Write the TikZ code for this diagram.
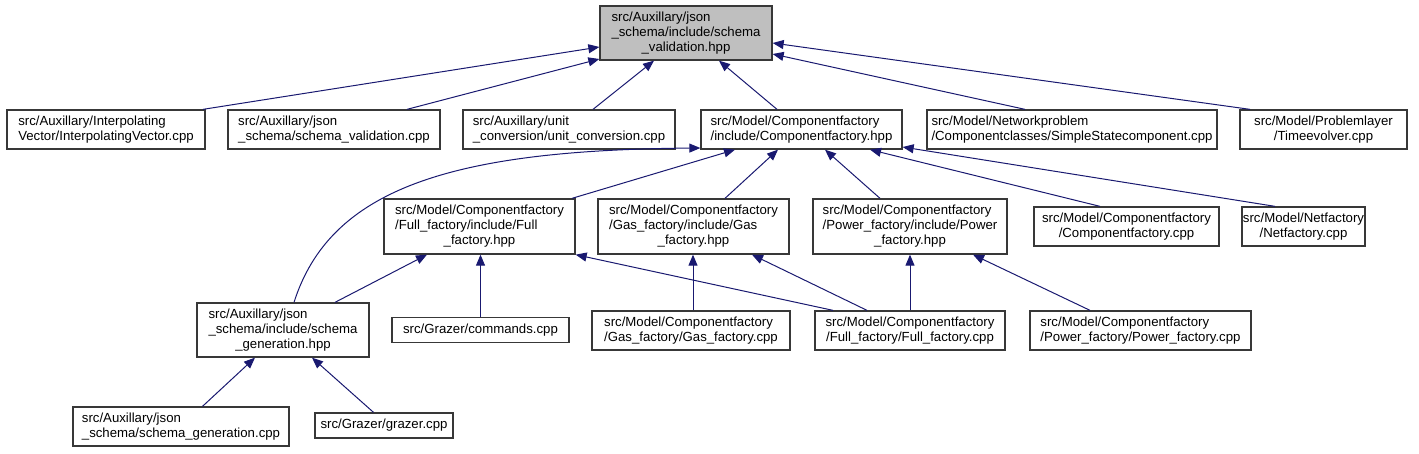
\documentclass[tikz,border=0pt]{standalone}
\usepackage{fontspec}
\setmainfont{Liberation Sans}
\usetikzlibrary{arrows.meta}
\definecolor{edgeblue}{RGB}{25,25,112}
\definecolor{rootgray}{RGB}{191,191,191}
\newcommand{\tl}[2]{\begin{tabular}{@{}l@{}}#1\\\multicolumn{1}{@{}c@{}}{#2}\end{tabular}}
\tikzset{
  box/.style={draw=black!78, line width=1.3pt, fill=white, inner sep=0pt, anchor=center,
    font=\fontsize{13.2}{15}\selectfont},
  rootbox/.style={box, fill=rootgray},
  dep/.style={draw=edgeblue, line width=1pt, -{Triangle[length=11pt,width=9pt]}}
}
\begin{document}
\begin{tikzpicture}[x=1pt,y=-1pt]
\useasboundingbox (0,0) rectangle (1419,453);
% root
\node[rootbox, minimum width=172pt, minimum height=54pt] (root) at (686,33)
  {\tl{src/Auxillary/json\\\_schema/include/schema}{\_validation.hpp}};
% row 2
\node[box, minimum width=198pt, minimum height=39pt] (iv) at (106,129.5)
  {\tl{src/Auxillary/Interpolating}{Vector/InterpolatingVector.cpp}};
\node[box, minimum width=212pt, minimum height=39pt] (sv) at (334,129.5)
  {\tl{src/Auxillary/json}{\_schema/schema\_validation.cpp}};
\node[box, minimum width=212pt, minimum height=39pt] (uc) at (569,129.5)
  {\tl{src/Auxillary/unit}{\_conversion/unit\_conversion.cpp}};
\node[box, minimum width=201pt, minimum height=39pt] (cfh) at (801.5,129.5)
  {\tl{src/Model/Componentfactory}{/include/Componentfactory.hpp}};
\node[box, minimum width=290pt, minimum height=39pt] (ssc) at (1072,129.5)
  {\tl{src/Model/Networkproblem}{/Componentclasses/SimpleStatecomponent.cpp}};
\node[box, minimum width=167pt, minimum height=39pt] (te) at (1323.5,129.5)
  {\tl{src/Model/Problemlayer}{/Timeevolver.cpp}};
% row 3
\node[box, minimum width=191pt, minimum height=55pt] (ffh) at (479.5,226.5)
  {\tl{src/Model/Componentfactory\\/Full\_factory/include/Full}{\_factory.hpp}};
\node[box, minimum width=191pt, minimum height=55pt] (gfh) at (693.5,226.5)
  {\tl{src/Model/Componentfactory\\/Gas\_factory/include/Gas}{\_factory.hpp}};
\node[box, minimum width=194pt, minimum height=55pt] (pfh) at (910,226.5)
  {\tl{src/Model/Componentfactory\\/Power\_factory/include/Power}{\_factory.hpp}};
\node[box, minimum width=185pt, minimum height=39pt] (cfc) at (1126.5,226.5)
  {\tl{src/Model/Componentfactory}{/Componentfactory.cpp}};
\node[box, minimum width=123pt, minimum height=39pt] (nf) at (1303.5,226.5)
  {\tl{src/Model/Netfactory}{/Netfactory.cpp}};
% row 4
\node[box, minimum width=172pt, minimum height=54pt] (sgh) at (283,330)
  {\tl{src/Auxillary/json\\\_schema/include/schema}{\_generation.hpp}};
\node[box, minimum width=177pt, minimum height=25pt] (cmd) at (480.5,330)
  {src/Grazer/commands.cpp};
\node[box, minimum width=198pt, minimum height=39pt] (gfc) at (691,330.5)
  {\tl{src/Model/Componentfactory}{/Gas\_factory/Gas\_factory.cpp}};
\node[box, minimum width=190pt, minimum height=39pt] (ffc) at (910,330.5)
  {\tl{src/Model/Componentfactory}{/Full\_factory/Full\_factory.cpp}};
\node[box, minimum width=221pt, minimum height=39pt] (pfc) at (1140.5,330.5)
  {\tl{src/Model/Componentfactory}{/Power\_factory/Power\_factory.cpp}};
% row 5
\node[box, minimum width=216pt, minimum height=39pt] (sgc) at (181,426.5)
  {\tl{src/Auxillary/json}{\_schema/schema\_generation.cpp}};
\node[box, minimum width=138pt, minimum height=25pt] (gz) at (384,425.5)
  {src/Grazer/grazer.cpp};
% edges to root
\draw[dep] ([xshift=97pt]iv.north) -- ([yshift=-14pt]root.west);
\draw[dep] ([xshift=73pt]sv.north) -- ([yshift=-26pt]root.west);
\draw[dep] ([xshift=24pt]uc.north) -- ([xshift=-32pt]root.south);
\draw[dep] ([xshift=-24.5pt]cfh.north) -- ([xshift=33pt]root.south);
\draw[dep] ([xshift=-47pt]ssc.north) -- ([yshift=-21pt]root.east);
\draw[dep] ([xshift=-73.5pt]te.north) -- ([yshift=-10pt]root.east);
% edges to Componentfactory.hpp
\draw[dep] ([xshift=11pt]sgh.north) .. controls +(36,-113) and +(-251,2) .. ([yshift=-18.5pt]cfh.west);
\draw[dep] ([xshift=92.5pt]ffh.north) -- ([xshift=-66.5pt]cfh.south);
\draw[dep] ([xshift=31.5pt]gfh.north) -- ([xshift=-23.5pt]cfh.south);
\draw[dep] ([xshift=-30pt]pfh.north) -- ([xshift=23.5pt]cfh.south);
\draw[dep] ([xshift=-26.5pt]cfc.north) -- ([xshift=68.5pt]cfh.south);
\draw[dep] ([xshift=-28.5pt]nf.north) -- ([yshift=-17.5pt]cfh.east);
% edges to Full_factory.hpp
\draw[dep] ([xshift=52pt]sgh.north) -- ([xshift=-52.5pt]ffh.south);
\draw[dep] (cmd.north) -- (cmd.north |- ffh.south);
\draw[dep] ([xshift=-77pt]ffc.north) -- (ffh.south east);
% edges to Gas_factory.hpp
\draw[dep] ([xshift=2pt]gfc.north) -- ([xshift=-0.5pt]gfh.south);
\draw[dep] ([xshift=-43pt]ffc.north) -- ([xshift=58.5pt]gfh.south);
% edges to Power_factory.hpp
\draw[dep] (ffc.north) -- (pfh.south);
\draw[dep] ([xshift=-50.5pt]pfc.north) -- ([xshift=63pt]pfh.south);
% edges to schema_generation.hpp
\draw[dep] ([xshift=21.5pt]sgc.north) -- ([xshift=-28pt]sgh.south);
\draw[dep] ([xshift=-10.5pt]gz.north) -- ([xshift=29pt]sgh.south);
\end{tikzpicture}
\end{document}
